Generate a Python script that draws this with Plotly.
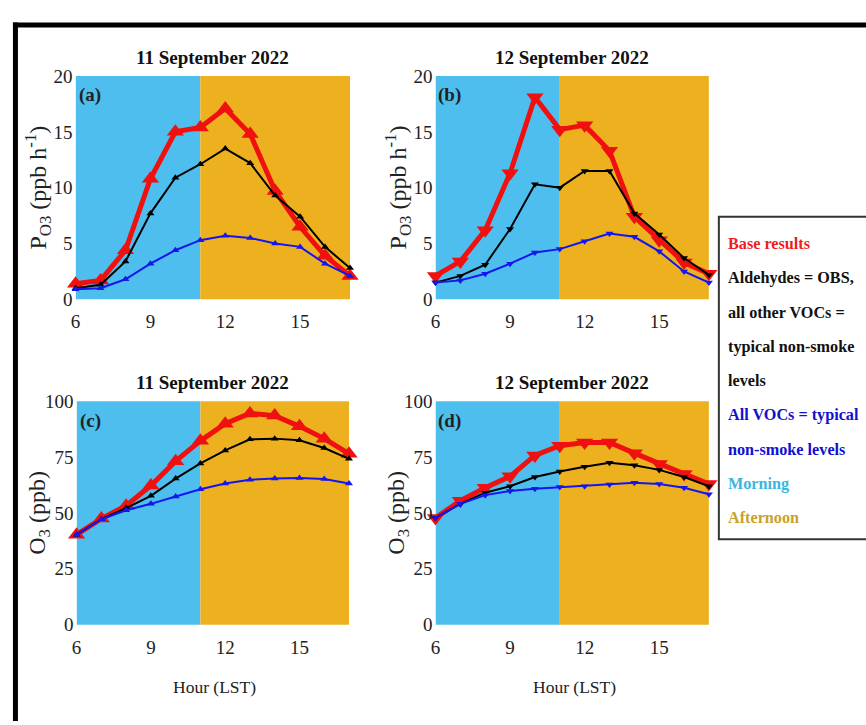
import plotly.graph_objects as go

hours = [6, 7, 8, 9, 10, 11, 12, 13, 14, 15, 16, 17]

# Panel (a): P_O3, 11 Sep 2022
a_base = [1.4, 1.7, 4.4, 10.8, 15.0, 15.4, 17.1, 14.8, 9.7, 6.5, 3.9, 2.1]
a_ald = [1.0, 1.3, 3.4, 7.7, 10.9, 12.1, 13.5, 12.2, 9.3, 7.4, 4.7, 2.8]
a_all = [0.9, 1.0, 1.8, 3.2, 4.4, 5.3, 5.7, 5.5, 5.0, 4.7, 3.2, 2.1]
# Panel (b): P_O3, 12 Sep 2022
b_base = [2.1, 3.4, 6.2, 11.3, 18.1, 15.2, 15.6, 13.3, 7.4, 5.3, 3.3, 2.3]
b_ald = [1.5, 2.1, 3.1, 6.3, 10.3, 10.0, 11.5, 11.5, 7.7, 5.8, 3.7, 2.2]
b_all = [1.5, 1.7, 2.3, 3.2, 4.2, 4.5, 5.2, 5.9, 5.6, 4.3, 2.5, 1.5]
# Panel (c): O3, 11 Sep 2022
c_base = [40.3, 47.5, 53.3, 62.3, 73.2, 82.3, 90.0, 94.6, 93.6, 88.8, 83.3, 76.5]
c_ald = [40.3, 47.2, 52.2, 57.7, 65.4, 72.2, 78.0, 83.0, 83.3, 82.6, 79.1, 74.3]
c_all = [40.3, 47.2, 51.2, 54.1, 57.4, 60.6, 63.2, 64.9, 65.4, 65.7, 65.2, 63.2]
# Panel (d): O3, 12 Sep 2022
d_base = [47.8, 55.5, 61.3, 66.4, 75.8, 80.1, 81.6, 81.6, 76.8, 71.9, 67.5, 63.0]
d_ald = [47.8, 54.1, 59.1, 62.0, 66.1, 68.6, 70.7, 72.5, 71.4, 69.3, 66.1, 62.0]
d_all = [47.8, 54.1, 58.0, 59.9, 60.9, 61.6, 62.0, 62.8, 63.5, 63.0, 61.3, 58.4]

panel_titles = ["11 September 2022", "12 September 2022", "11 September 2022", "12 September 2022"]
panel_labels = ["(a)", "(b)", "(c)", "(d)"]
top_ticks = [0, 5, 10, 15, 20]
bot_ticks = [0, 25, 50, 75, 100]
x_ticks = [6, 9, 12, 15]
morning = (6, 11)
afternoon = (11, 17)
legend_lines = [
    ("Base results", "#EE1C1C"),
    ("Aldehydes = OBS,", "#111111"),
    ("all other VOCs =", "#111111"),
    ("typical non-smoke", "#111111"),
    ("levels", "#111111"),
    ("All VOCs = typical", "#1010D0"),
    ("non-smoke levels", "#1010D0"),
    ("Morning", "#3BB6E0"),
    ("Afternoon", "#C9A22A"),
]

W, H = 866, 725
FONT = "Liberation Serif"
C_MORN = "#4DBEEE"
C_AFT = "#EDB120"
C_RED = "#F01010"
C_BLK = "#000000"
C_BLU = "#1515F0"

# pixel boxes: (x0, x1, ytop, ybot)
boxes = [(71, 347, 68, 298), (433, 708, 68, 298), (72, 346, 403, 633), (433, 708, 403, 633)]

def px(x):
    return x / W

def py(y):
    return 1 - y / H

fig = go.Figure()
data = [(a_base, a_ald, a_all), (b_base, b_ald, b_all), (c_base, c_ald, c_all), (d_base, d_ald, d_all)]
layout = {}
shapes = []
annotations = []
for i, (base, ald, allv) in enumerate(data):
    n = i + 1
    xa = "x" if n == 1 else f"x{n}"
    ya = "y" if n == 1 else f"y{n}"
    sym = "triangle-up" if i in (0, 2) else "triangle-down"
    for vals, col, lw, ms in [(base, C_RED, 5, 15), (ald, C_BLK, 2, 7), (allv, C_BLU, 2, 7)]:
        fig.add_trace(go.Scatter(
            x=hours, y=vals, xaxis=xa, yaxis=ya, mode="lines+markers",
            line=dict(color=col, width=lw),
            marker=dict(symbol=sym, size=ms, color=col, line=dict(width=0)),
            cliponaxis=False, showlegend=False, hoverinfo="skip"))
    x0, x1, yt, yb = boxes[i]
    ticks = top_ticks if i < 2 else bot_ticks
    layout["xaxis" if n == 1 else f"xaxis{n}"] = dict(
        domain=[px(x0), px(x1)], anchor=ya, range=[6, 17], tickvals=x_ticks,
        showgrid=False, zeroline=False, showline=False, ticks="", ticklabelstandoff=9,
        tickfont=dict(family=FONT, size=19, color="#222"))
    layout["yaxis" if n == 1 else f"yaxis{n}"] = dict(
        domain=[py(yb), py(yt)], anchor=xa, range=[0, ticks[-1]], tickvals=ticks,
        showgrid=False, zeroline=False, showline=False, ticks="", ticklabelstandoff=2,
        tickfont=dict(family=FONT, size=19, color="#222"))
    for (s, e), col in [(morning, C_MORN), (afternoon, C_AFT)]:
        shapes.append(dict(type="rect", xref=xa, yref=f"{ya} domain", x0=s, x1=e, y0=0, y1=1,
                           fillcolor=col, line=dict(width=0), layer="below"))
    cx = (x0 + x1) / 2
    annotations.append(dict(text=f"<b>{panel_titles[i]}</b>", x=px(cx), y=py(yt - 19),
                            xref="paper", yref="paper", showarrow=False,
                            font=dict(family=FONT, size=19, color="#111"),
                            xanchor="center", yanchor="middle"))
    annotations.append(dict(text=f"<b>{panel_labels[i]}</b>", x=px(x0 + 1), y=py(yt + 20),
                            xref="paper", yref="paper", showarrow=False, xanchor="left",
                            font=dict(family=FONT, size=19, color="#222"), yanchor="middle"))
    ytitle = "P<sub>O3</sub> (ppb h<sup>-1</sup>)" if i < 2 else "O<sub>3</sub> (ppb)"
    annotations.append(dict(text=ytitle, x=px(x0 - 38), y=py((yt + yb) / 2), textangle=-90,
                            xref="paper", yref="paper", showarrow=False,
                            font=dict(family=FONT, size=24, color="#222"),
                            xanchor="center", yanchor="middle"))
    if i >= 2:
        annotations.append(dict(text="Hour (LST)", x=px(cx + 2), y=py(697), xref="paper", yref="paper",
                                showarrow=False, font=dict(family=FONT, size=17.5, color="#222"),
                                xanchor="center", yanchor="middle"))

# outer frame (top and left edges visible)
shapes.append(dict(type="line", xref="paper", yref="paper", x0=px(8), x1=1.01, y0=py(15.5), y1=py(15.5),
                   line=dict(color="black", width=5)))
shapes.append(dict(type="line", xref="paper", yref="paper", x0=px(10.5), x1=px(10.5), y0=py(13), y1=-0.01,
                   line=dict(color="black", width=5)))
# legend box
shapes.append(dict(type="rect", xref="paper", yref="paper", x0=px(718), x1=px(880), y0=py(545), y1=py(213),
                   line=dict(color="#333", width=2), fillcolor="white"))
ly = 241
for txt, col in legend_lines:
    annotations.append(dict(text=f"<b>{txt}</b>", x=px(725), y=py(ly), xref="paper", yref="paper",
                            showarrow=False, xanchor="left", yanchor="middle",
                            font=dict(family=FONT, size=16.2, color=col)))
    ly += 35.3

fig.update_layout(width=W, height=H, margin=dict(l=0, r=0, t=0, b=0),
                  paper_bgcolor="white", plot_bgcolor="white",
                  shapes=shapes, annotations=annotations, **layout)
fig.write_html("out.html")
